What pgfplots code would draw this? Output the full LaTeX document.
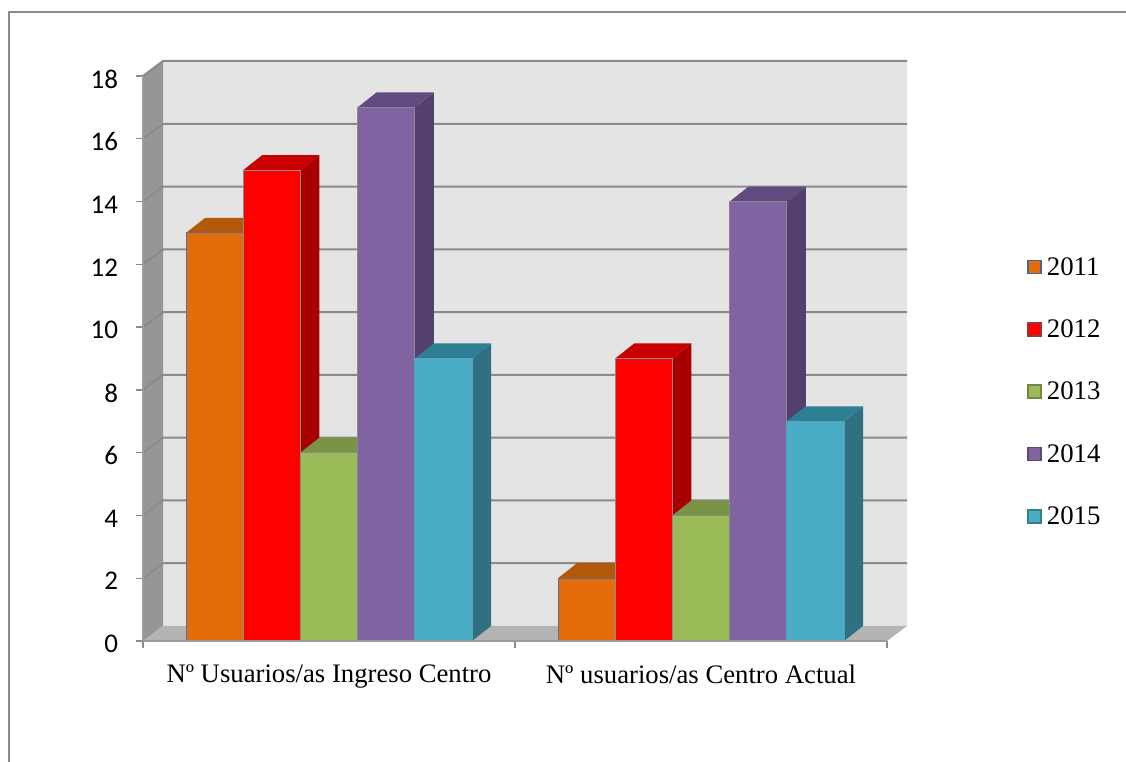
\documentclass[border=0pt]{standalone}
\usepackage{fontspec}
\setmainfont{Liberation Serif}
\newfontfamily\carlito{Carlito}
\usepackage{pgfplots}
\pgfplotsset{compat=1.18}

\definecolor{wallback}{HTML}{E4E4E4}
\definecolor{wallleft}{HTML}{969696}
\definecolor{wallfloor}{HTML}{B4B4B4}
\definecolor{gridc}{HTML}{8A8A8A}
\definecolor{axisc}{HTML}{9C9C9C}
\definecolor{c11}{HTML}{E46C0A}\definecolor{c11t}{HTML}{B35808}\definecolor{c11s}{HTML}{A04F07}\definecolor{c11l}{HTML}{3F6797}
\definecolor{c12}{HTML}{FF0000}\definecolor{c12t}{HTML}{C80000}\definecolor{c12s}{HTML}{A80000}\definecolor{c12l}{HTML}{953735}
\definecolor{c13}{HTML}{9BBB59}\definecolor{c13t}{HTML}{7A9446}\definecolor{c13s}{HTML}{66803A}\definecolor{c13l}{HTML}{71893F}
\definecolor{c14}{HTML}{8064A2}\definecolor{c14t}{HTML}{614A80}\definecolor{c14s}{HTML}{54406E}\definecolor{c14l}{HTML}{5C4776}
\definecolor{c15}{HTML}{4BACC6}\definecolor{c15t}{HTML}{2F7F94}\definecolor{c15s}{HTML}{307082}\definecolor{c15l}{HTML}{357D91}

% x axis runs in pixels from the front left corner, depth is 19 px and 0.478 units
\newcommand\face[2]{\addplot[forget plot,fill=#1,draw=none] coordinates {#2};}
\newcommand\gl[2]{\addplot[forget plot,gridc,line width=2pt] coordinates {(0,#1)(20,#2)(764,#2)};}
\pgfplotsset{legsq/.style 2 args={legend image code/.code={\draw[fill=#1,draw=#2,line width=1.8pt] (1pt,-6.5pt) rectangle (14pt,6.5pt);}}}

\begin{document}
\begin{tikzpicture}
\useasboundingbox (0,0) rectangle (1126pt,762pt);
\begin{axis}[
  at={(143pt,121pt)}, anchor=south west,
  scale only axis, width=744pt, height=565pt,
  xmin=0, xmax=744, ymin=0, ymax=18,
  clip=false, axis on top,
  axis x line*=bottom, axis y line*=left,
  axis line style={axisc,line width=1.2pt,-},
  tick style={gridc,line width=1.4pt},
  tick align=outside, major tick length=7pt,
  xtick={0,372,744},
  xticklabels={Nº Usuarios/as Ingreso Centro,Nº usuarios/as Centro Actual,},
  x tick label style={xshift=186pt,yshift=-13pt,font=\fontsize{26.7}{30}\selectfont},
  ytick={0,2,...,18},
  y tick label style={font=\carlito\fontsize{27}{30}\selectfont,xshift=-14.5pt,yshift=-3pt},
  /pgf/number format/assume math mode=true,
  legend style={at={(1.188,0.683)},anchor=north west,draw=none,fill=none,
    inner sep=0pt,row sep=39pt,font=\fontsize{26.8}{30}\selectfont},
  legend cell align=left,
  /tikz/every odd column/.append style={column sep=3pt},
]
% walls
\face{wallback}{(20,0.478)(764,0.478)(764,18.478)(20,18.478)}
\face{wallleft}{(0,0)(20,0.478)(20,18.478)(0,18)}
\face{wallfloor}{(0,0)(20,0.478)(764,0.478)(744,0)}
\gl{2}{2.478}\gl{4}{4.478}\gl{6}{6.478}\gl{8}{8.478}\gl{10}{10.478}
\gl{12}{12.478}\gl{14}{14.478}\gl{16}{16.478}\gl{18}{18.478}

% 2011
\face{c11s}{(100.2,0)(119.2,0.478)(119.2,13.478)(100.2,13)}
\face{c11t}{(43,13)(62,13.478)(119.2,13.478)(100.2,13)}
\face{c11s}{(472.2,0)(491.2,0.478)(491.2,2.478)(472.2,2)}
\face{c11t}{(415,2)(434,2.478)(491.2,2.478)(472.2,2)}
\addplot[ybar,bar width=57.2pt,bar shift=-114.4pt,fill=c11,draw=c11l!70!gridc,line width=1pt,legsq={c11}{c11l}]
  coordinates {(186,13)(558,2)};
\addlegendentry{2011}

% 2012
\face{c12s}{(157.4,0)(176.4,0.478)(176.4,15.478)(157.4,15)}
\face{c12t}{(100.2,15)(119.2,15.478)(176.4,15.478)(157.4,15)}
\face{c12s}{(529.4,0)(548.4,0.478)(548.4,9.478)(529.4,9)}
\face{c12t}{(472.2,9)(491.2,9.478)(548.4,9.478)(529.4,9)}
\addplot[ybar,bar width=57.2pt,bar shift=-57.2pt,fill=c12,draw=gridc,line width=1pt,legsq={c12}{c12l}]
  coordinates {(186,15)(558,9)};
\addlegendentry{2012}

% 2013
\face{c13s}{(214.6,0)(233.6,0.478)(233.6,6.478)(214.6,6)}
\face{c13t}{(157.4,6)(176.4,6.478)(233.6,6.478)(214.6,6)}
\face{c13s}{(586.6,0)(605.6,0.478)(605.6,4.478)(586.6,4)}
\face{c13t}{(529.4,4)(548.4,4.478)(605.6,4.478)(586.6,4)}
\addplot[ybar,bar width=57.2pt,bar shift=0pt,fill=c13,draw=gridc,line width=1pt,legsq={c13}{c13l}]
  coordinates {(186,6)(558,4)};
\addlegendentry{2013}

% 2014
\face{c14s}{(271.8,0)(290.8,0.478)(290.8,17.478)(271.8,17)}
\face{c14t}{(214.6,17)(233.6,17.478)(290.8,17.478)(271.8,17)}
\face{c14s}{(643.8,0)(662.8,0.478)(662.8,14.478)(643.8,14)}
\face{c14t}{(586.6,14)(605.6,14.478)(662.8,14.478)(643.8,14)}
\addplot[ybar,bar width=57.2pt,bar shift=57.2pt,fill=c14,draw=gridc,line width=1pt,legsq={c14}{c14l}]
  coordinates {(186,17)(558,14)};
\addlegendentry{2014}

% 2015
\face{c15s}{(329,0)(348,0.478)(348,9.478)(329,9)}
\face{c15t}{(271.8,9)(290.8,9.478)(348,9.478)(329,9)}
\face{c15s}{(701,0)(720,0.478)(720,7.478)(701,7)}
\face{c15t}{(643.8,7)(662.8,7.478)(720,7.478)(701,7)}
\addplot[ybar,bar width=57.2pt,bar shift=114.4pt,fill=c15,draw=c15!80!gridc,line width=1pt,legsq={c15}{c15l}]
  coordinates {(186,9)(558,7)};
\addlegendentry{2015}
\end{axis}
% outer frame: only the left and top lines are in the crop
\draw[gridc,line width=2pt] (9pt,0) -- (9pt,750pt) -- (1126pt,750pt);
\end{tikzpicture}
\end{document}
